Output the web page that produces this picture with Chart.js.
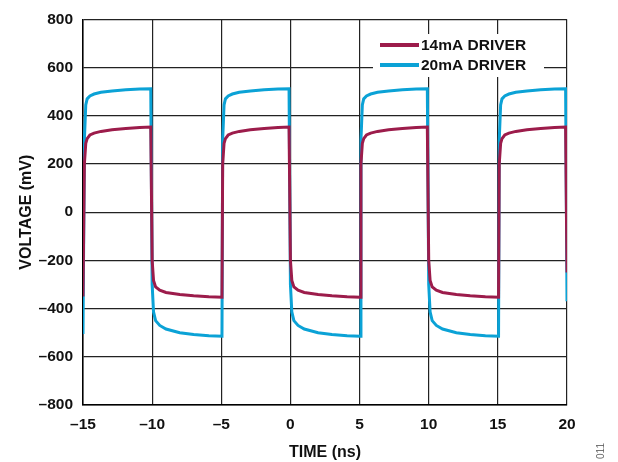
<!DOCTYPE html>
<html>
<head>
<meta charset="utf-8">
<script src="https://cdn.jsdelivr.net/npm/chart.js@4"></script>
<style>
  html, body { margin: 0; padding: 0; background: #fff; }
  #wrap { position: relative; width: 618px; height: 462px; }
  #fig { position: absolute; left: 586px; top: 445px; width: 30px; height: 12px; line-height: 12px;
         text-align: center; font: 10px "Liberation Sans", Arial, sans-serif; color: #666;
         transform: rotate(-90deg); }
</style>
</head>
<body>
<div id="wrap">
  <canvas id="grafico" width="618" height="462"></canvas>
  <div id="fig">011</div>
</div>
<script>
// tiempo (ns)
const timeNs = [
    -15.0,
    -14.9, -14.8, -14.7, -14.5, -14.2, -13.7, -12.9, -11.9, -10.9, -10.1,
    -10.0, -9.9, -9.75, -9.45, -9.0, -8.0, -7.0, -5.9, -4.95,
    -4.9, -4.8, -4.7, -4.5, -4.2, -3.7, -2.9, -1.9, -0.9, -0.1,
    0.0, 0.1, 0.25, 0.55, 1.0, 2.0, 3.0, 4.1, 5.05,
    5.1, 5.2, 5.3, 5.5, 5.8, 6.3, 7.1, 8.1, 9.1, 9.9,
    10.0, 10.1, 10.25, 10.55, 11.0, 12.0, 13.0, 14.1, 15.05,
    15.1, 15.2, 15.3, 15.5, 15.8, 16.3, 17.1, 18.1, 19.1, 19.9,
    20.0
];

// 14mA (mV)
const driver14 = [
    -350,
    200, 285, 305, 320, 328, 335, 342, 347, 351, 353,
    -200, -283, -310, -324, -333, -342, -347, -351, -353,
    200, 285, 305, 320, 328, 335, 342, 347, 351, 353,
    -200, -283, -310, -324, -333, -342, -347, -351, -353,
    200, 285, 305, 320, 328, 335, 342, 347, 351, 353,
    -200, -283, -310, -324, -333, -342, -347, -351, -353,
    200, 285, 305, 320, 328, 335, 342, 347, 351, 353,
    -250
];

// 20mA (mV)
const driver20 = [
    -505,
    300, 445, 470, 482, 490, 497, 503, 508, 511, 512,
    -300, -414, -450, -470, -485, -500, -508, -513, -515,
    300, 445, 470, 482, 490, 497, 503, 508, 511, 512,
    -300, -414, -450, -470, -485, -500, -508, -513, -515,
    300, 445, 470, 482, 490, 497, 503, 508, 511, 512,
    -300, -414, -450, -470, -485, -500, -508, -513, -515,
    300, 445, 470, 482, 490, 497, 503, 508, 511, 512,
    -370
];

const seriesLabels = ['14mA DRIVER', '20mA DRIVER'];
const seriesColors = ['#9c1c4b', '#0ba2d6'];

const xTicks = [-15, -10, -5, 0, 5, 10, 15, 20];
const yTicks = [-800, -600, -400, -200, 0, 200, 400, 600, 800];

const FUENTE = '"Liberation Sans", Arial, sans-serif';

function puntos(valores) {
    return timeNs.map((t, i) => ({ x: t, y: valores[i] }));
}

function guion(v) {
    return String(v).replace('-', '\u2013');
}

// leyenda dentro del area del grafico, con fondo blanco
const leyenda = {
    id: 'leyenda',
    afterDraw(chart) {
        const ctx = chart.ctx;
        ctx.save();
        ctx.fillStyle = '#fff';
        ctx.fillRect(373, 34, 171, 43);
        ctx.font = 'bold 15.5px ' + FUENTE;
        ctx.textBaseline = 'middle';
        seriesLabels.forEach((txt, i) => {
            const y = 45 + i * 20;
            ctx.strokeStyle = seriesColors[i];
            ctx.lineWidth = 4;
            ctx.beginPath();
            ctx.moveTo(380, y);
            ctx.lineTo(419, y);
            ctx.stroke();
            ctx.fillStyle = '#111';
            ctx.fillText(txt, 421, y + 1);
        });
        ctx.restore();
    }
};

new Chart(document.getElementById('grafico'), {
    type: 'line',
    data: {
        datasets: [
            { label: seriesLabels[0], data: puntos(driver14), borderColor: seriesColors[0], borderWidth: 3, pointRadius: 0, tension: 0 },
            { label: seriesLabels[1], data: puntos(driver20), borderColor: seriesColors[1], borderWidth: 3, pointRadius: 0, tension: 0 }
        ]
    },
    options: {
        responsive: false,
        animation: false,
        layout: { padding: { top: 18, right: 51, left: 0, bottom: 0 } },
        plugins: {
            legend: { display: false },
            tooltip: { enabled: false }
        },
        scales: {
            x: {
                type: 'linear',
                min: -15,
                max: 20,
                afterBuildTicks: s => { s.ticks = xTicks.map(v => ({ value: v })); },
                afterFit: s => { s.height = 57; },
                grid: { color: '#222', lineWidth: 1.2, drawTicks: false },
                border: { color: '#000', width: 1.5 },
                ticks: { color: '#111', padding: 10, font: { family: FUENTE, size: 15.5, weight: 'bold' }, callback: v => guion(v), maxRotation: 0 },
                title: { display: true, text: 'TIME (ns)', color: '#111', font: { family: FUENTE, size: 16, weight: 'bold' }, padding: { bottom: 0, top: 0 } }
            },
            y: {
                min: -800,
                max: 800,
                afterBuildTicks: s => { s.ticks = yTicks.map(v => ({ value: v })); },
                afterFit: s => { s.width = 83; },
                grid: { color: '#222', lineWidth: 1.2, drawTicks: false },
                border: { color: '#000', width: 1.5 },
                ticks: { color: '#111', padding: 10, font: { family: FUENTE, size: 15.5, weight: 'bold' }, callback: v => guion(v) },
                title: { display: true, text: 'VOLTAGE (mV)', color: '#111', font: { family: FUENTE, size: 16, weight: 'bold' }, padding: { top: 17, bottom: 0 } }
            }
        }
    },
    plugins: [leyenda]
});
</script>
</body>
</html>
